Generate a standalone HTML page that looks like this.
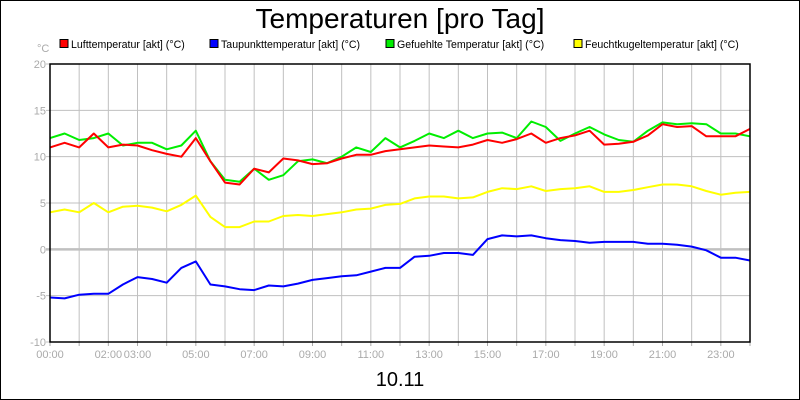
<!DOCTYPE html>
<html><head><meta charset="utf-8"><style>
body{margin:0;background:#fff}
svg{display:block;font-family:"Liberation Sans",sans-serif}
</style></head><body>
<svg id="chart" width="800" height="400" xmlns="http://www.w3.org/2000/svg">
<rect x="0.5" y="0.5" width="799" height="399" fill="#fff" stroke="#000"/>
<text x="400" y="28" font-size="28" text-anchor="middle">Temperaturen [pro Tag]</text>
<text x="400" y="386" font-size="20" text-anchor="middle">10.11</text>
<text x="37" y="52" font-size="11" fill="#aaa">°C</text>
<g id="legend"></g>
<g id="grid"></g>
<g id="series"></g>
<rect x="50" y="64" width="700" height="278" fill="none" stroke="#000" stroke-width="1.5"/>
</svg>
<script>
const hours=[0,0.5,1,1.5,2,2.5,3,3.5,4,4.5,5,5.5,6,6.5,7,7.5,8,8.5,9,9.5,10,10.5,11,11.5,12,12.5,13,13.5,14,14.5,15,15.5,16,16.5,17,17.5,18,18.5,19,19.5,20,20.5,21,21.5,22,22.5,23,23.5,24];
const luft=[11,11.5,11,12.5,11,11.3,11.2,10.7,10.3,10,12,9.5,7.2,7,8.7,8.3,9.8,9.6,9.2,9.3,9.8,10.2,10.2,10.6,10.8,11,11.2,11.1,11,11.3,11.8,11.5,11.9,12.5,11.5,12,12.3,12.8,11.3,11.4,11.6,12.3,13.5,13.2,13.3,12.2,12.2,12.2,13];
const gefuehlt=[12,12.5,11.8,12,12.5,11.2,11.5,11.5,10.8,11.2,12.8,9.5,7.5,7.3,8.7,7.5,8,9.5,9.7,9.3,10,11,10.5,12,11,11.7,12.5,12,12.8,12,12.5,12.6,12,13.8,13.2,11.7,12.5,13.2,12.4,11.8,11.6,12.8,13.7,13.5,13.6,13.5,12.5,12.5,12.2];
const feucht=[4,4.3,4,5,4,4.6,4.7,4.5,4.1,4.8,5.8,3.5,2.4,2.4,3,3,3.6,3.7,3.6,3.8,4,4.3,4.4,4.8,4.9,5.5,5.7,5.7,5.5,5.6,6.2,6.6,6.5,6.8,6.3,6.5,6.6,6.8,6.2,6.2,6.4,6.7,7,7,6.8,6.3,5.9,6.1,6.2];
const taupunkt=[-5.2,-5.3,-4.9,-4.8,-4.8,-3.8,-3,-3.2,-3.6,-2,-1.3,-3.8,-4,-4.3,-4.4,-3.9,-4,-3.7,-3.3,-3.1,-2.9,-2.8,-2.4,-2,-2,-0.8,-0.7,-0.4,-0.4,-0.6,1.1,1.5,1.4,1.5,1.2,1,0.9,0.7,0.8,0.8,0.8,0.6,0.6,0.5,0.3,-0.1,-0.9,-0.9,-1.2];
const yTicks=[20,15,10,5,0,-5,-10];
const xLabels=["00:00","","02:00","03:00","","05:00","","07:00","","09:00","","11:00","","13:00","","15:00","","17:00","","19:00","","21:00","","23:00",""];
const legendNames=["Lufttemperatur [akt] (°C)","Taupunkttemperatur [akt] (°C)","Gefuehlte Temperatur [akt] (°C)","Feuchtkugeltemperatur [akt] (°C)"];

const NS="http://www.w3.org/2000/svg";
const X0=50,X1=750,Y0=342,Y1=64,VMIN=-10,VMAX=20;
const xs=h=>X0+h/24*(X1-X0);
const ys=v=>Y0-(v-VMIN)/(VMAX-VMIN)*(Y0-Y1);
function mk(tag,attrs,parent){const e=document.createElementNS(NS,tag);for(const k in attrs)e.setAttribute(k,attrs[k]);parent.appendChild(e);return e;}
const grid=document.getElementById('grid');
for(let i=1;i<24;i++){
  const l=mk('line',{x1:xs(i),x2:xs(i),y1:Y1,y2:Y0,stroke:'#c0c0c0'},grid);
  
  
}
for(let i=0;i<=24;i++){
  const t=mk('line',{x1:xs(i),x2:xs(i),y1:Y0,y2:Y0+4,stroke:'#aaa'},grid);
  
  
  if(xLabels[i]){
    const tx=mk('text',{x:xs(i),y:Y0+16,'font-size':11,fill:'#aaa','text-anchor':'middle'},grid);
    tx.textContent=xLabels[i];
    
    
  }
}
yTicks.forEach(v=>{
  const l=mk('line',{x1:X0-4,x2:X1,y1:ys(v),y2:ys(v),stroke:'#c0c0c0','stroke-width':v===0?2.5:1},grid);
  
  
  const t=mk('text',{x:X0-4,y:ys(v)+4,'font-size':11,fill:'#aaa','text-anchor':'end'},grid);
  t.textContent=v;
  
  
});
const ser=document.getElementById('series');
function line(vals,color,name){
  const d=vals.map((v,i)=>(i?'L':'M')+xs(hours[i]).toFixed(1)+' '+ys(v).toFixed(1)).join(' ');
  const p=mk('path',{d:d,fill:'none',stroke:color,'stroke-width':2,'stroke-linejoin':'round'},ser);
  
  
}
line(feucht,'#ffff00','feuchtkugel-line');
line(taupunkt,'#0000ff','taupunkt-line');
line(gefuehlt,'#00ee00','gefuehlt-line');
line(luft,'#ff0000','luft-line');
const leg=document.getElementById('legend');
const lx=[60,210,386,574],lc=['#ff0000','#0000ff','#00ee00','#ffff00'];
legendNames.forEach((n,i)=>{
  const r=mk('rect',{x:lx[i],y:39.5,width:8,height:8,fill:lc[i],stroke:'#000'},leg);
  
  
  const t=mk('text',{x:lx[i]+11,y:48,'font-size':10.6,fill:'#000'},leg);
  t.textContent=n;
  
  
});
</script>
</body></html>
